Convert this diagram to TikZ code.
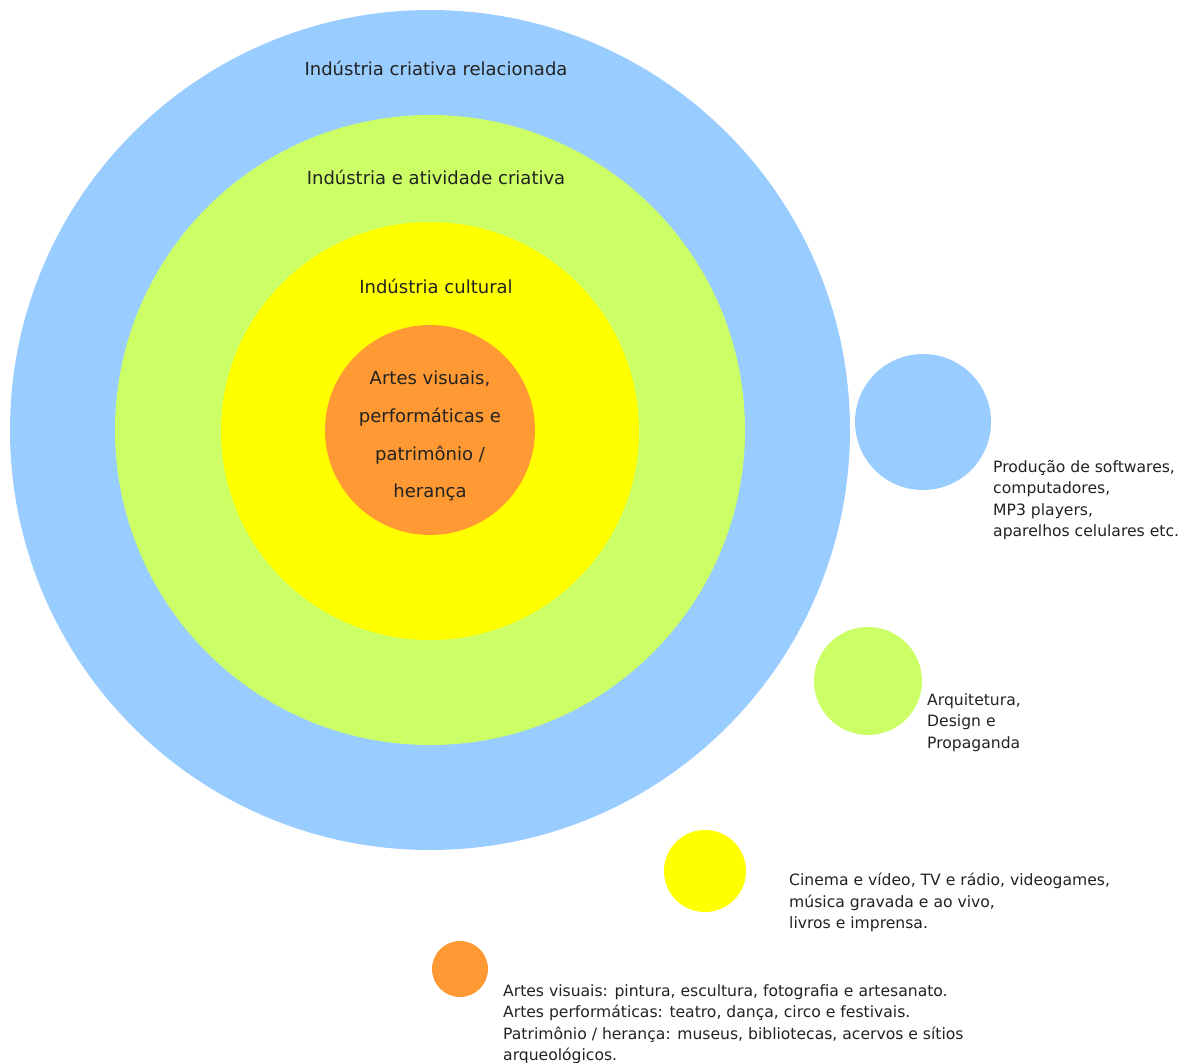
\documentclass[tikz,border=0pt]{standalone}
\usepackage{fontspec}
\setmainfont{DejaVu Sans}
\definecolor{cblue}{HTML}{99CCFF}
\definecolor{cgreen}{HTML}{CCFF66}
\definecolor{cyellow}{HTML}{FFFF00}
\definecolor{corange}{HTML}{FF9933}
\definecolor{ctext}{HTML}{222222}
\begin{document}
\begin{tikzpicture}[x=1pt,y=-1pt,
  disc/.style={circle,inner sep=0pt,draw=none},
  head/.style={anchor=base,inner sep=0pt,text=ctext,font=\fontsize{18}{22}\selectfont},
  legend/.style={anchor=north west,inner sep=0pt,align=left,text=ctext,font=\fontsize{15.6}{21.5}\selectfont}]
\useasboundingbox (0,0) rectangle (1179,1063);
\fill[white] (0,0) rectangle (1179,1063);
% concentric circles
\node[disc,fill=cblue,minimum size=840pt] (c1) at (430,430) {};
\node[disc,fill=cgreen,minimum size=630pt] (c2) at (430,430) {};
\node[disc,fill=cyellow,minimum size=418pt] (c3) at (430,431) {};
\node[disc,fill=corange,minimum size=210pt] (c4) at (430,430) {};
% headings
\node[head] (h1) at (436,75) {Indústria criativa relacionada};
\node[head] (h2) at (436,184) {Indústria e atividade criativa};
\node[head] (h3) at (436,293) {Indústria cultural};
\node[head] (t1) at (430,384) {Artes visuais,};
\node[head] (t2) at (430,422) {performáticas e};
\node[head] (t3) at (430,460) {patrimônio /};
\node[head] (t4) at (430,497) {herança};
% small legend circles
\node[disc,fill=cblue,minimum size=136pt] (s1) at (923,422) {};
\node[disc,fill=cgreen,minimum size=108pt] (s2) at (868,681) {};
\node[disc,fill=cyellow,minimum size=82pt] (s3) at (705,871) {};
\node[disc,fill=corange,minimum size=56pt] (s4) at (460,969) {};
% legend texts
\node[legend] (l1) at (993,460) {Produção de softwares,\\computadores,\\MP3 players,\\aparelhos celulares etc.};
\node[legend] (l2) at (927,693) {Arquitetura,\\Design e\\Propaganda};
\node[legend] (l3) at (789,873) {Cinema e vídeo, TV e rádio, videogames,\\música gravada e ao vivo,\\livros e imprensa.};
\node[legend] (l4) at (503,984) {Artes visuais: pintura, escultura, fotografia e artesanato.\\Artes performáticas: teatro, dança, circo e festivais.\\Patrimônio / herança: museus, bibliotecas, acervos e sítios\\arqueológicos.};
\end{tikzpicture}
\end{document}
